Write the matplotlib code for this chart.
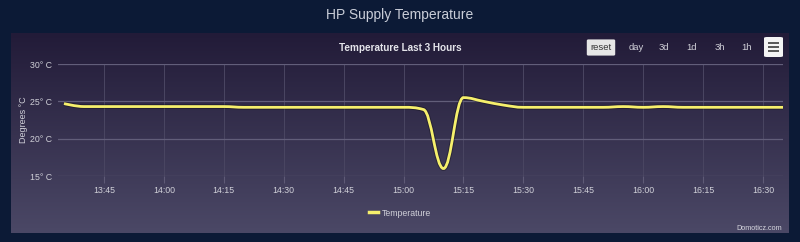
import numpy as np
import matplotlib
matplotlib.use('Agg')
import matplotlib.pyplot as plt
import matplotlib.dates as mdates
from matplotlib.path import Path
from matplotlib.patches import PathPatch, FancyBboxPatch, Rectangle
from datetime import datetime, timedelta

plt.rcParams['font.family'] = ['Liberation Sans', 'DejaVu Sans']

# ---- data (5 minute samples) ----
start = datetime(2024, 1, 1, 13, 35)
temps = [24.7, 24.3, 24.3, 24.3, 24.3, 24.3, 24.3, 24.3, 24.3,
         24.2, 24.2, 24.2, 24.2, 24.2, 24.2, 24.2, 24.2, 24.2,
         23.9, 16.0, 25.5, 25.0, 24.5, 24.2, 24.2, 24.2, 24.2,
         24.2, 24.3, 24.2, 24.3, 24.2, 24.2, 24.2, 24.2, 24.2, 24.2]
times = [start + timedelta(minutes=5 * i) for i in range(len(temps))]
tick_labels = ['13:45', '14:00', '14:15', '14:30', '14:45', '15:00',
               '15:15', '15:30', '15:45', '16:00', '16:15', '16:30']
y_ticks = [15, 20, 25, 30]
buttons = ['day', '3d', '1d', '3h', '1h']

bg = '#0c1a36'
txt = '#d0d0d8'


def spline_path(xs, ys, smoothing=1.5):
    # same idea as the highcharts spline: bezier control points per point
    n = len(xs)
    verts = [(xs[0], ys[0])]
    codes = [Path.MOVETO]
    left = [None] * n
    right = [None] * n
    for i in range(n):
        px, py = xs[i], ys[i]
        if 0 < i < n - 1:
            lx, ly = xs[i - 1], ys[i - 1]
            nx, ny = xs[i + 1], ys[i + 1]
            d = smoothing + 1
            lcx = (smoothing * px + lx) / d
            lcy = (smoothing * py + ly) / d
            rcx = (smoothing * px + nx) / d
            rcy = (smoothing * py + ny) / d
            if rcx != lcx:
                corr = (rcy - lcy) * (rcx - px) / (rcx - lcx) + py - rcy
                lcy += corr
                rcy += corr
            if lcy > ly and lcy > py:
                lcy = max(ly, py)
                rcy = 2 * py - lcy
            elif lcy < ly and lcy < py:
                lcy = min(ly, py)
                rcy = 2 * py - lcy
            if rcy > ny and rcy > py:
                rcy = max(ny, py)
                lcy = 2 * py - rcy
            elif rcy < ny and rcy < py:
                rcy = min(ny, py)
                lcy = 2 * py - rcy
            left[i] = (lcx, lcy)
            right[i] = (rcx, rcy)
        else:
            left[i] = (px, py)
            right[i] = (px, py)
    for i in range(1, n):
        verts += [right[i - 1], left[i], (xs[i], ys[i])]
        codes += [Path.CURVE4] * 3
    return Path(verts, codes)


fig = plt.figure(figsize=(8, 2.42), dpi=100)
fig.patch.set_facecolor(bg)

# panel with vertical gradient
W, H = 800, 242
pan = fig.add_axes([11 / W, 1 - 233 / H, 778 / W, 200 / H])
grad = np.linspace(0, 1, 256)[:, None]
c_top = np.array([0x22, 0x1b, 0x38]) / 255
c_bot = np.array([0x4b, 0x48, 0x66]) / 255
img = c_top[None, None, :] * (1 - grad[..., None]) + c_bot[None, None, :] * grad[..., None]
pan.imshow(np.repeat(img, 2, axis=1), aspect='auto', extent=[0, 1, 0, 1])
pan.set_axis_off()

ax = fig.add_axes([58 / W, 1 - 176 / H, 725 / W, 112 / H])
ax.patch.set_alpha(0)
xs = mdates.date2num(times)
ys = np.array(temps)
path = spline_path(list(xs), list(ys))
ax.add_patch(PathPatch(path, fill=False, ec='#000000', lw=3.4, alpha=0.3, zorder=3))
ax.add_patch(PathPatch(path, fill=False, ec='#f6f06c', lw=2.0, zorder=4))
ax.plot([], [], color='#f6f06c', lw=2.5, label='Temperature')

ax.set_xlim(mdates.date2num(datetime(2024, 1, 1, 13, 33, 30)),
            mdates.date2num(datetime(2024, 1, 1, 16, 35)))
ax.set_ylim(15, 30)
tick_pos = [mdates.date2num(datetime(2024, 1, 1, int(t[:2]), int(t[3:]))) for t in tick_labels]
ax.set_xticks(tick_pos)
ax.set_xticklabels(tick_labels)
ax.set_yticks(y_ticks)
ax.set_yticklabels([f'{v}° C' for v in y_ticks])
for s in ax.spines.values():
    s.set_visible(False)
ax.grid(axis='y', color='#625e7a', lw=0.9)
ax.grid(axis='x', color='#4a4662', lw=0.7)
ax.tick_params(axis='x', colors='#5e5a76', length=5, width=0.8, labelcolor=txt,
               labelsize=6.3, pad=2.5)
ax.tick_params(axis='y', length=0, labelcolor=txt, labelsize=6.3, pad=4)
ax.set_ylabel('Degrees °C', color=txt, fontsize=6.5, labelpad=2)

leg = ax.legend(loc='center', bbox_to_anchor=(400 / W, 1 - 213 / H),
                bbox_transform=fig.transFigure, frameon=False, fontsize=6.3,
                handlelength=1.0, handletextpad=0.4, labelcolor=txt)

# titles
fig.text(0.5, 1 - 15 / H, 'HP Supply Temperature', ha='center', va='center',
         color='#c9cdd8', fontsize=10)
fig.text(400 / W, 1 - 48 / H, 'Temperature Last 3 Hours', ha='center', va='center',
         color='#e4e4ea', fontsize=7.2, fontweight='bold')

# range buttons
fig.text(601 / W, 1 - 47.5 / H, 'reset', ha='center', va='center', color='#333333',
         fontsize=6.8, bbox=dict(boxstyle='round,pad=0.38,rounding_size=0.15',
                                 fc='#e6e6e6', ec='none'))
bx = [636, 664, 692, 720, 747]
for b, x in zip(buttons, bx):
    fig.text(x / W, 1 - 47.5 / H, b, ha='center', va='center', color=txt, fontsize=6.8)

# menu button
fig.patches.append(FancyBboxPatch((764 / W, 1 - 57 / H), 19 / W, 20 / H,
                                  boxstyle='round,pad=0,rounding_size=0.004',
                                  transform=fig.transFigure, fc='#f4f4f4', ec='none'))
for yy in (43.3, 47.3, 51.3):
    fig.patches.append(Rectangle((768 / W, 1 - (yy + 1) / H), 11 / W, 2 / H,
                                 transform=fig.transFigure, fc='#5a5a5a', ec='none'))

fig.text(782 / W, 1 - 228 / H, 'Domoticz.com', ha='right', va='center',
         color='#d8d8e0', fontsize=5.2)

fig.savefig('out.png', dpi=100, facecolor=bg)
